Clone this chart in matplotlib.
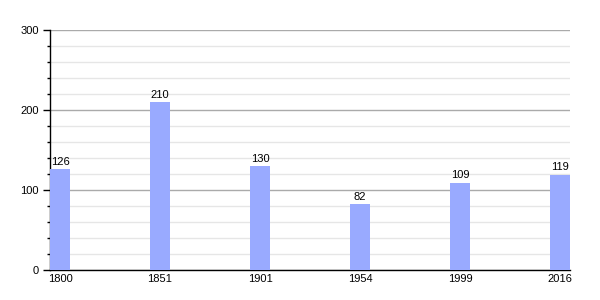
import matplotlib
matplotlib.use("Agg")
import matplotlib.pyplot as plt
from matplotlib.ticker import MultipleLocator

plt.rcParams["font.family"] = ["Liberation Sans", "DejaVu Sans"]

years = ["1800", "1851", "1901", "1954", "1999", "2016"]
population = [126, 210, 130, 82, 109, 119]

fig = plt.figure(figsize=(6, 3), dpi=100)
ax = fig.add_axes([50/600, 30/300, 520/600, 240/300])

pos = list(range(len(years)))
w = 0.2
ax.bar(pos, population, width=w, align="edge", color="#99aaff", zorder=3)
for p, v in zip(pos, population):
    ax.text(p + w/2, v + 3, str(v), ha="center", va="bottom", fontsize=8, color="#000000", zorder=4)

ax.set_xlim(0, 5.2)
ax.set_ylim(0, 300)
ax.set_xticks([p + w/2 for p in pos])
ax.set_xticklabels(years, fontsize=8)
ax.tick_params(axis="x", length=0, pad=3)
ax.yaxis.set_major_locator(MultipleLocator(100))
ax.yaxis.set_minor_locator(MultipleLocator(20))
ax.tick_params(axis="y", which="major", length=5, width=1, labelsize=8, pad=3)
ax.tick_params(axis="y", which="minor", length=2.5, width=1)
ax.grid(axis="y", which="major", color="#aaaaaa", linewidth=1, zorder=1)
ax.grid(axis="y", which="minor", color="#e6e6e6", linewidth=1, zorder=0)
for s in ["top", "right"]:
    ax.spines[s].set_visible(False)
ax.spines["left"].set_linewidth(1)
ax.spines["bottom"].set_linewidth(1)
ax.set_axisbelow(True)

fig.savefig("out.png", dpi=100)
